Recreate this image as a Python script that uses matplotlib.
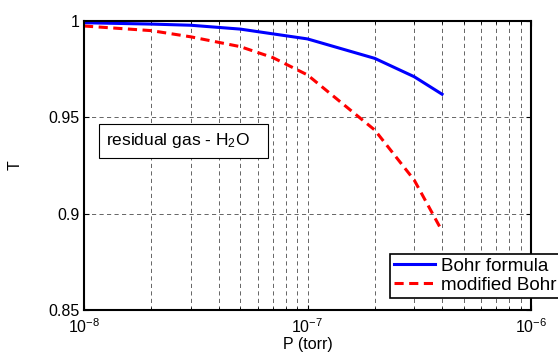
import matplotlib.pyplot as plt
import numpy as np

plt.rcParams['font.family'] = ['Liberation Sans', 'DejaVu Sans']
plt.rcParams['mathtext.default'] = 'regular'

# data
p_bohr = [1e-8, 2e-8, 3e-8, 5e-8, 1e-7, 2e-7, 3e-7, 4e-7]
t_bohr = [0.9991, 0.9984, 0.9978, 0.9958, 0.9907, 0.9806, 0.9711, 0.962]
p_mod = [1e-8, 2e-8, 3e-8, 5e-8, 7e-8, 1e-7, 2e-7, 3e-7, 4e-7]
t_mod = [0.9974, 0.995, 0.9918, 0.9867, 0.981, 0.972, 0.9434, 0.9175, 0.891]

fig = plt.figure(figsize=(5.58, 3.53), dpi=100)
ax = fig.add_axes([84/558, 43/353, 447/558, 289/353])

ax.plot(p_bohr, t_bohr, color='blue', lw=2.2, label='Bohr formula')
ax.plot(p_mod, t_mod, color='red', lw=2.2, ls=(0, (3, 1.8)), label='modified Bohr')

ax.set_xscale('log')
ax.set_xlim(1e-8, 1e-6)
ax.set_ylim(0.85, 1)
ax.set_yticks([0.85, 0.9, 0.95, 1])
ax.set_yticklabels(['0.85', '0.9', '0.95', '1'])

# matlab-ish grid
ax.grid(True, which='major', ls=(0, (5, 4)), color='black', lw=0.6, alpha=0.7)
ax.grid(True, which='minor', axis='x', ls=(0, (5, 4)), color='black', lw=0.6, alpha=0.7)
ax.tick_params(which='both', direction='in', top=True, right=True, labelsize=11.5)
ax.tick_params(axis='x', pad=5)
for s in ax.spines.values():
    s.set_linewidth(1.5)

ax.set_xlabel('P (torr)', fontsize=11.5, labelpad=1)
ax.set_ylabel('T', fontsize=11.5, labelpad=18)

ax.text(0.05, 0.585, 'residual gas - H$_2$O   ', transform=ax.transAxes, fontsize=12.5,
        va='center', ha='left',
        bbox=dict(boxstyle='square,pad=0.45', fc='white', ec='black', lw=0.8))

leg = ax.legend(loc='lower left', bbox_to_anchor=(0.664, 0.01), fontsize=13.5,
                fancybox=False, framealpha=1, edgecolor='black',
                borderpad=0.2, handlelength=2.2, handletextpad=0.3, labelspacing=0.1)
leg.get_frame().set_linewidth(1.2)

fig.savefig('out.png', dpi=100)
